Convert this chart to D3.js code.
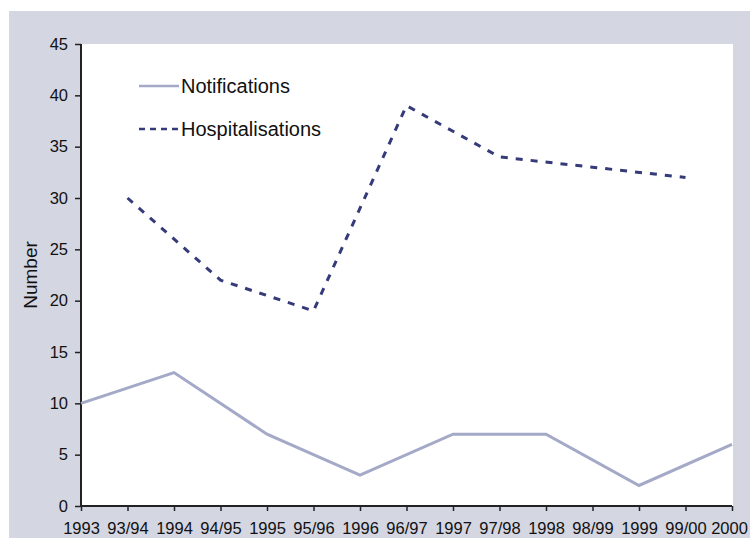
<!DOCTYPE html>
<html><head><meta charset="utf-8">
<script src="https://cdn.jsdelivr.net/npm/d3@7"></script>
<style>body{margin:0;background:#fff}svg{display:block}text{font-family:"Liberation Sans",Arial,sans-serif}</style>
</head><body><svg id="c" width="750" height="538"></svg>
<script>
const periods = ["1993","93/94","1994","94/95","1995","95/96","1996","96/97","1997","97/98","1998","98/99","1999","99/00","2000"];
const notifYears = ["1993","1994","1995","1996","1997","1998","1999","2000"];
const notifValues = [10,13,7,3,7,7,2,6];
const hospYears = ["93/94","94/95","95/96","96/97","97/98","98/99","99/00"];
const hospValues = [30,22,19,39,34,33,32];
const yTicks = [0,5,10,15,20,25,30,35,40,45];

const svg = d3.select("#c");
const m = {l:81, r:732, t:44, b:506};
svg.append("rect").attr("x",9).attr("y",11).attr("width",741).attr("height",527).attr("fill","#d4d6e2");
svg.append("rect").attr("x",m.l).attr("y",m.t).attr("width",733-m.l).attr("height",m.b-m.t).attr("fill","#fff");

const x = d3.scalePoint().domain(periods).range([m.l,m.r]);
const y = d3.scaleLinear().domain([0,45]).range([m.b,m.t]);

const ya = svg.append("g").attr("transform",`translate(${m.l},0)`)
  .call(d3.axisLeft(y).tickValues(yTicks).tickSize(6).tickSizeOuter(0).tickPadding(7));
const xa = svg.append("g").attr("transform",`translate(0,${m.b})`)
  .call(d3.axisBottom(x).tickSize(5).tickSizeOuter(0).tickPadding(11));
[ya,xa].forEach(a=>{
  a.attr("font-size",null).attr("font-family",null);
  a.selectAll("path").attr("stroke","#222").attr("stroke-width",2);
  a.selectAll("line").attr("stroke","#222").attr("stroke-width",1.5);
  a.selectAll("text").attr("fill","#111").style("font-size","16.5px").style("font-family","'Liberation Sans',Arial,sans-serif");
});
xa.selectAll(".tick").filter(d=>d==="2000").select("text").attr("x",-3);
ya.select(".domain").attr("d",`M0,${m.b}V${m.t}`);
xa.select(".domain").attr("d",`M${m.l},0H${m.r}`);

svg.append("text").attr("transform",`translate(37,${(m.t+m.b)/2}) rotate(-90)`)
  .attr("text-anchor","middle").style("font-size","19px").attr("fill","#111").text("Number");

const line = d3.line().x(d=>x(d[0])).y(d=>y(d[1]));
svg.append("path").datum(notifYears.map((d,i)=>[d,notifValues[i]]))
  .attr("d",line).attr("fill","none").attr("stroke","#a4a9c8").attr("stroke-width",3).attr("stroke-linejoin","miter");
svg.append("path").datum(hospYears.map((d,i)=>[d,hospValues[i]]))
  .attr("d",line).attr("fill","none").attr("stroke","#353a78").attr("stroke-width",3).attr("stroke-dasharray","7,8");

const leg = [["Notifications","#a4a9c8",null,86],["Hospitalisations","#353a78","6,5",129]];
leg.forEach(([t,c,da,yy])=>{
  svg.append("line").attr("x1",139).attr("x2",179).attr("y1",yy).attr("y2",yy)
    .attr("stroke",c).attr("stroke-width",2.5).attr("stroke-dasharray",da);
  svg.append("text").attr("x",181).attr("y",yy+7).style("font-size","20px").attr("fill","#111").text(t);
});
</script></body></html>
